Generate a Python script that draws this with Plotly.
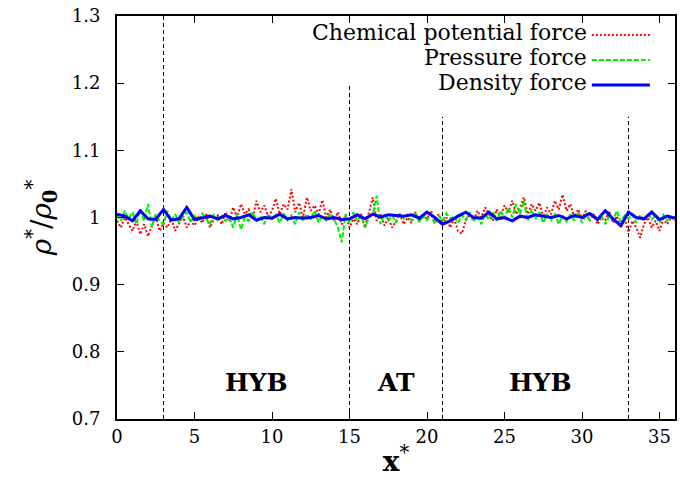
import numpy as np
import plotly.graph_objects as go

# ---------------- data ----------------
x_fine = [i * 0.25 for i in range(145)]   # 0 .. 36
x_coarse = [i * 0.5 for i in range(73)]   # 0 .. 36

chem_potential = [
    0.995, 0.985, 1.000, 0.990,
    0.980, 0.995, 0.975, 0.990,
    0.972, 0.988, 1.002, 0.980,
    0.992, 0.985, 0.998, 0.980,
    0.990, 1.002, 0.985, 0.995,
    0.988, 1.000, 0.992, 1.005,
    0.985, 0.998, 1.003, 0.990,
    1.008, 0.995, 1.015, 1.000,
    1.020, 1.005, 1.012, 0.998,
    1.025, 1.008, 1.018, 1.002,
    1.010, 1.028, 1.005, 1.020,
    1.012, 1.042, 1.008, 1.022,
    1.000, 1.030, 1.010, 1.018,
    1.005, 1.026, 1.000, 1.012,
    0.995, 1.008, 0.990, 1.002,
    0.985, 0.998, 0.990, 1.005,
    0.985, 1.010, 1.030, 0.995,
    1.005, 0.988, 1.000, 0.985,
    0.995, 1.005, 0.990, 1.000,
    0.992, 1.008, 0.995, 1.003,
    0.998, 1.010, 0.995, 1.005,
    0.990, 1.000, 0.985, 0.998,
    0.980, 0.976, 0.995, 1.005,
    0.995, 1.010, 1.000, 1.015,
    1.005, 0.995, 1.012, 1.000,
    1.018, 1.008, 1.025, 1.005,
    1.015, 1.030, 1.005, 1.020,
    1.010, 1.022, 1.000, 1.015,
    1.005, 1.025, 1.012, 1.034,
    1.010, 1.020, 1.000, 1.012,
    0.998, 1.010, 0.995, 1.005,
    0.990, 1.000, 0.995, 1.010,
    0.992, 1.002, 0.985, 0.998,
    0.978, 0.995, 0.985, 0.970,
    0.990, 1.000, 0.985, 0.995,
    0.980, 0.998, 0.990, 1.000,
    0.995,
]

pressure = [
    1.005, 0.995, 1.010, 0.998,
    1.008, 0.990, 1.012, 0.995,
    1.020, 0.985, 1.005, 0.995,
    0.990, 1.010, 0.995, 1.005,
    0.992, 1.000, 1.008, 0.993,
    1.003, 0.995, 1.006, 0.998,
    0.990, 1.005, 0.996, 1.002,
    0.995, 1.000, 0.985, 1.005,
    0.982, 1.000, 0.995, 1.008,
    0.995, 1.002, 0.990, 1.005,
    0.998, 1.004, 0.992, 1.006,
    0.996, 1.003, 0.990, 1.008,
    0.995, 1.005, 0.998, 1.010,
    0.993, 1.003, 0.996, 1.006,
    0.998, 0.985, 0.963, 1.005,
    0.992, 1.008, 0.995, 1.003,
    0.985, 1.000, 1.005, 1.032,
    0.990, 1.005, 0.995, 1.003,
    0.992, 1.006, 0.998, 1.004,
    0.995, 1.008, 0.993, 1.002,
    0.996, 1.005, 0.990, 1.003,
    0.995, 1.006, 0.998, 1.002,
    0.992, 1.004, 0.996, 1.008,
    0.994, 1.003, 0.990, 1.005,
    0.997, 1.008, 0.995, 1.010,
    0.998, 1.015, 1.000, 1.020,
    1.005, 1.025, 0.995, 1.012,
    0.998, 1.008, 0.992, 1.004,
    0.996, 1.006, 0.990, 1.003,
    0.994, 1.005, 0.995, 1.008,
    0.992, 1.003, 0.996, 1.006,
    0.995, 1.004, 0.990, 1.002,
    0.996, 1.010, 0.994, 1.003,
    0.998, 1.005, 0.992, 1.004,
    0.995, 1.006, 0.997, 1.003,
    0.992, 1.004, 0.996, 1.000,
    0.998,
]

density = [
    1.005, 1.002, 0.995, 1.010, 0.998, 0.997, 1.012, 0.996, 0.998, 1.015,
    0.997, 1.000, 1.002, 0.998, 1.003, 0.998, 1.000, 1.004, 0.996, 1.000,
    0.999, 1.005, 0.998, 1.000, 0.999, 1.000, 1.003, 0.998, 1.000, 0.997,
    0.998, 1.004, 0.998, 1.005, 1.001, 1.004, 1.003, 1.002, 1.004, 0.999,
    1.008, 1.000, 0.990, 0.995, 1.002, 1.008, 1.000, 0.999, 1.008, 0.998,
    1.000, 0.995, 1.002, 1.000, 1.004, 1.002, 1.000, 1.003, 0.998, 1.003,
    1.000, 1.006, 0.997, 1.010, 0.998, 0.988, 1.008, 1.000, 0.998, 1.008,
    0.997, 1.002, 0.999,
]

series_names = ["Chemical potential force", "Pressure force", "Density force"]

# region boundaries (x position, top of dashed line in y)
boundary_x = [3, 15, 21, 33]
boundary_top = [1.3, 1.2, 1.15, 1.15]

region_labels = ["HYB", "AT", "HYB"]
region_label_x = [9, 18, 27.3]
region_label_y = 0.754

x_ticks = [0, 5, 10, 15, 20, 25, 30, 35]
y_ticks = [0.7, 0.8, 0.9, 1.0, 1.1, 1.2, 1.3]
y_tick_text = ["0.7", "0.8", "0.9", "1", "1.1", "1.2", "1.3"]

# ---------------- figure ----------------
FONT = "DejaVu Serif, Liberation Serif, serif"
fig = go.Figure()

styles = [
    dict(color="#ff0000", width=2, dash="2px,2px"),
    dict(color="#00ee00", width=2, dash="5px,2px"),
    dict(color="#0000ff", width=3, dash="solid"),
]
xs = [x_fine, x_fine, x_coarse]
ys = [chem_potential, pressure, density]

for name, xv, yv, st in zip(series_names, xs, ys, styles):
    fig.add_trace(go.Scatter(x=xv, y=yv, mode="lines", name=name,
                             line=st, showlegend=False))

# dashed region boundaries
for bx, bt in zip(boundary_x, boundary_top):
    fig.add_shape(type="line", xref="x", yref="y", x0=bx, x1=bx,
                  y0=0.7, y1=bt, line=dict(color="black", width=1, dash="4px,3px"),
                  layer="below")

# region labels
for lab, lx in zip(region_labels, region_label_x):
    fig.add_annotation(x=lx, y=region_label_y, xref="x", yref="y",
                       text="<b>%s</b>" % lab, showarrow=False,
                       font=dict(family=FONT, size=25, color="black"))

# gnuplot-style legend: text right-aligned, sample on the right
leg_y = [0.958, 0.896, 0.834]
for name, st, ly in zip(series_names, styles, leg_y):
    fig.add_annotation(x=0.845, y=ly, xref="paper", yref="paper",
                       text=name, showarrow=False, xanchor="right",
                       yanchor="middle",
                       font=dict(family=FONT, size=22, color="black"))
    fig.add_shape(type="line", xref="paper", yref="paper",
                  x0=0.851, x1=0.955, y0=ly - 0.005, y1=ly - 0.005,
                  line=st)

axis_common = dict(
    showgrid=False, zeroline=False, showline=True, linecolor="black",
    linewidth=2, mirror="ticks", ticks="inside", ticklen=7, tickwidth=1,
    tickcolor="black", tickfont=dict(family=FONT, size=18, color="black"),
)

fig.update_xaxes(range=[0, 36], tickvals=x_ticks, ticktext=[str(v) for v in x_ticks],
                 title=dict(text="<b>x</b><sup>*</sup>",
                            font=dict(family=FONT, size=28, color="black"),
                            standoff=6),
                 **axis_common)
fig.update_yaxes(range=[0.7, 1.3], tickvals=y_ticks, ticktext=y_tick_text,
                 ticklabelstandoff=11,
                 title=dict(text="<i>ρ</i><sup>*</sup>/<i>ρ</i><sub><b>0</b></sub><sup>*</sup>",
                            font=dict(family=FONT, size=28, color="black"),
                            standoff=12),
                 **axis_common)

fig.update_layout(
    width=680, height=490,
    margin=dict(l=117, r=3, t=16, b=71),
    plot_bgcolor="white", paper_bgcolor="white",
    showlegend=False,
)

fig.write_html("out.html")
